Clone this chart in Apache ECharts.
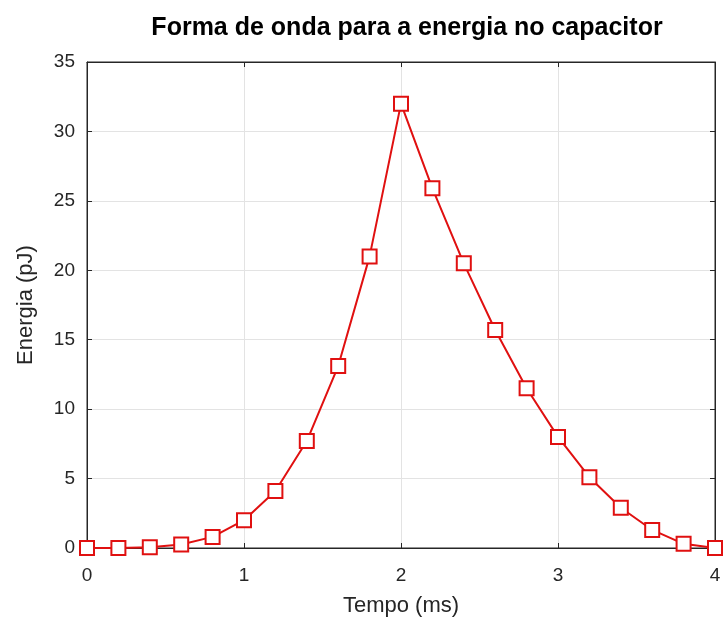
<!DOCTYPE html>
<html><head><meta charset="utf-8">
<script src="https://cdn.jsdelivr.net/npm/echarts@6/dist/echarts.min.js"></script>
<style>html,body{margin:0;padding:0;background:#fff}#c{width:724px;height:621px}</style>
</head><body><div id="c"></div>
<script>
const times = [0,0.2,0.4,0.6,0.8,1.0,1.2,1.4,1.6,1.8,2.0,2.2,2.4,2.6,2.8,3.0,3.2,3.4,3.6,3.8,4.0];
const energy = [0,0,0.05,0.25,0.8,2.0,4.1,7.7,13.1,21.0,32.0,25.9,20.5,15.7,11.5,8.0,5.1,2.9,1.3,0.3,0];
const xTicks = [0,1,2,3,4];
const yTicks = [0,5,10,15,20,25,30,35];
const font = 'Liberation Sans, Arial, sans-serif';
const chart = echarts.init(document.getElementById('c'));
const axisLine = {show:true, onZero:false, lineStyle:{color:'#262626', width:1}};
const tick = {show:true, inside:true, length:5, lineStyle:{color:'#262626'}};
const splitLine = {show:true, lineStyle:{color:'#e3e3e3', width:1}};
chart.setOption({
  animation:false,
  title:{text:'Forma de onda para a energia no capacitor', left:402, top:11, textAlign:'center',
    textStyle:{fontFamily:font, fontSize:25, fontWeight:'bold', color:'#000'}},
  grid:{left:87, right:9, top:62, bottom:73, show:true, borderColor:'#262626', borderWidth:1,
    outerBoundsMode:'none', containLabel:false},
  xAxis:[{type:'value', min:0, max:4, interval:1, name:'Tempo (ms)', nameLocation:'middle', nameGap:47,
    nameTextStyle:{fontFamily:font, fontSize:22, color:'#262626'},
    axisLine:axisLine, axisTick:tick,
    axisLabel:{fontFamily:font, fontSize:19, color:'#262626', margin:18, formatter:v=>xTicks.includes(v)?String(v):''},
    splitLine:splitLine},
   {type:'value', position:'top', min:0, max:4, interval:1, axisLine:axisLine,
    axisTick:tick, axisLabel:{show:false}, splitLine:{show:false}}],
  yAxis:[{type:'value', min:0, max:35, interval:5, name:'Energia (pJ)', nameLocation:'middle', nameGap:50,
    nameTextStyle:{fontFamily:font, fontSize:22, color:'#262626'},
    axisLine:axisLine, axisTick:tick,
    axisLabel:{fontFamily:font, fontSize:19, color:'#262626', margin:12, formatter:v=>yTicks.includes(v)?String(v):''},
    splitLine:splitLine},
   {type:'value', position:'right', min:0, max:35, interval:5, axisLine:axisLine,
    axisTick:tick, axisLabel:{show:false}, splitLine:{show:false}}],
  series:[{type:'line', data:times.map((t,i)=>[t,energy[i]]), symbol:'emptyRect', symbolSize:14,
    lineStyle:{color:'#e01010', width:2}, itemStyle:{color:'#e01010', borderColor:'#e01010', borderWidth:2},
    clip:false}]
});
</script></body></html>
